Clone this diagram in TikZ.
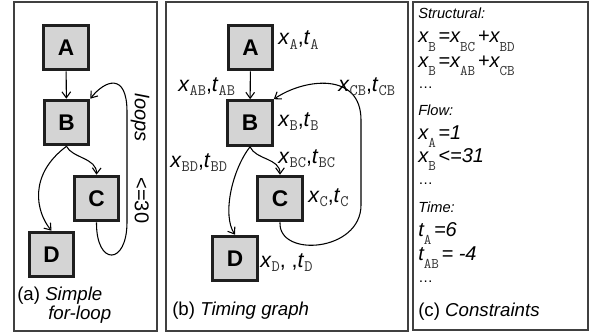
\documentclass[tikz,border=0pt]{standalone}
\usepackage{fontspec}
\setmainfont{Liberation Sans}
\usetikzlibrary{arrows.meta}
\newcommand\subB[1]{\raisebox{-3.5pt}{\fontsize{12}{12}\selectfont\ttfamily\upshape\color{black!80}#1}}
\newcommand\labB[2]{\textit{#1}\subB{#2}}
\newcommand\subC[1]{\raisebox{-6pt}{\fontsize{11}{11}\selectfont\ttfamily\upshape\color{black!80}#1}}
\newcommand\labC[2]{\textit{#1}\subC{#2}\kern2pt}
\begin{document}
\begin{tikzpicture}[x=0.75pt,y=-0.75pt,
  panel/.style={draw=black!75,line width=1pt},
  blk/.style={draw=black!88,fill=black!17,line width=2.2pt,minimum size=33.5pt,inner sep=0pt,font=\fontsize{17}{17}\selectfont\bfseries},
  edge/.style={line width=0.8pt,-{Straight Barb[length=4.5pt,width=6.5pt]}},
  lbl/.style={anchor=base west,inner sep=0pt,font=\fontsize{16}{16}\selectfont},
  eq/.style={anchor=base west,inner sep=0pt,font=\fontsize{15}{15}\selectfont\itshape},
  eqhead/.style={anchor=base west,inner sep=0pt,font=\fontsize{11}{11}\selectfont\itshape},
  captxt/.style={anchor=base west,inner sep=0pt,font=\fontsize{14}{14}\selectfont}]
\useasboundingbox (0,0) rectangle (591,335);
% panels
\draw[panel] (14,2) rectangle (157,331);
\draw[panel] (166,2) rectangle (408,331);
\draw[panel] (413,2) rectangle (588,330);
% (a)
\node[blk] (aA) at (66,47.5) {A};
\node[blk] (aB) at (66.5,122.5) {B};
\node[blk] (aC) at (96.5,198.5) {C};
\node[blk] (aD) at (51.5,254.5) {D};
\draw[edge] (aA) -- (aB);
\draw[edge] (aB.south) .. controls (72,158) and (97,158) .. (aC.north);
\draw[edge] (aB.south) .. controls (28,175) and (36,212) .. (aD.north);
\draw[edge] (aC.south) .. controls (96,266) and (127,266) .. (127,222) -- (127,112) .. controls (127,72) and (105,80) .. (aB.north east);
\node[rotate=-90,inner sep=0pt,font=\fontsize{15}{15}\selectfont] (aloop) at (140,158.5) {\textit{loops}\hspace{27pt}<=30};
\node[captxt] (acap1) at (17,300) {(a) \textit{Simple}};
\node[captxt] (acap2) at (48,319) {\textit{for-loop}};
% (b)
\node[blk] (bA) at (250.5,47.5) {A};
\node[blk] (bB) at (250,123) {B};
\node[blk] (bC) at (280,198.5) {C};
\node[blk] (bD) at (235,258.5) {D};
\draw[edge] (bA) -- (bB);
\draw[edge] (bB.south) .. controls (256,160) and (280,158) .. (bC.north);
\draw[edge] (bB.south) .. controls (232,170) and (222,215) .. (bD.north);
\draw[edge] (bC.south) .. controls (278,258) and (361,252) .. (361,205) -- (361,120) .. controls (361,72) and (305,78) .. (bB.north east);
\node[lbl] (lA) at (278,45) {\labB{x}{A},\labB{t}{A}};
\node[lbl] (lAB) at (178,91) {\labB{x}{AB},\labB{t}{AB}};
\node[lbl] (lCB) at (338,91) {\labB{x}{CB},\labB{t}{CB}};
\node[lbl] (lB) at (278,126) {\labB{x}{B},\labB{t}{B}};
\node[lbl] (lBC) at (278,163) {\labB{x}{BC},\labB{t}{BC}};
\node[lbl] (lBD) at (170,167) {\labB{x}{BD},\labB{t}{BD}};
\node[lbl] (lC) at (308,202) {\labB{x}{C},\labB{t}{C}};
\node[lbl] (lD) at (260,267) {\labB{x}{D}, ,\labB{t}{D}};
\node[captxt] (bcap) at (172,315) {(b) \textit{Timing graph}};
% (c)
\node[eqhead] (hS) at (418,19) {Structural:};
\node[eq] (e1) at (418,43) {\labC{x}{B}=\labC{x}{BC}+\labC{x}{BD}};
\node[eq] (e2) at (418,67) {\labC{x}{B}=\labC{x}{AB}+\labC{x}{CB}};
\node[eq] (d1) at (418,88) {\upshape\fontsize{11}{11}\selectfont …};
\node[eqhead] (hF) at (418,115) {Flow:};
\node[eq] (e3) at (418,139) {\labC{x}{A}=1};
\node[eq] (e4) at (418,162) {\labC{x}{B}<=31};
\node[eq] (d2) at (418,184) {\upshape\fontsize{11}{11}\selectfont …};
\node[eqhead] (hT) at (418,212) {Time:};
\node[eq] (e5) at (418,236) {\labC{t}{A}=6};
\node[eq] (e6) at (418,260) {\labC{t}{AB}= -4};
\node[eq] (d3) at (418,282) {\upshape\fontsize{11}{11}\selectfont …};
\node[captxt] (ccap) at (418,316) {(c) \textit{Constraints}};
\end{tikzpicture}
\end{document}
